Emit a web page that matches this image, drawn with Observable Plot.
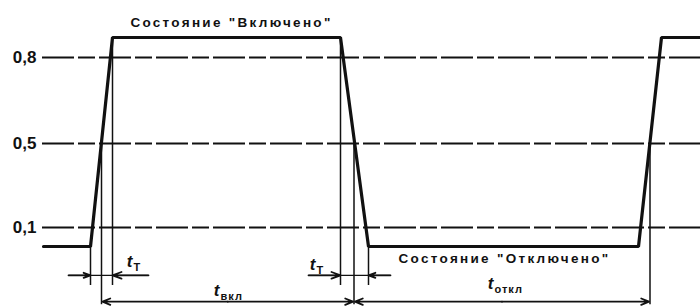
<!DOCTYPE html>
<html>
<head>
<meta charset="utf-8">
<script src="https://cdn.jsdelivr.net/npm/d3@7"></script>
<script src="https://cdn.jsdelivr.net/npm/@observablehq/plot@0.6"></script>
<style>
  body { margin: 0; background: #fff; }
  g[aria-description="state-label"] text { letter-spacing: 2.3px; }
  g[aria-description="sub-label"] text { letter-spacing: 1px; }
</style>
</head>
<body>
<div id="chart"></div>
<script>
// ---- data ----
// signal: time (arbitrary units) and normalized level (0 = off, 1 = on)
const signalT = [4.3, 9.0, 11.2, 34.0, 36.8, 63.8, 66.1, 70];
const signalV = [0, 0, 1, 1, 0, 0, 1, 1];

// threshold levels and their tick labels
const thresholds = [0.1, 0.5, 0.8];
const thresholdLabels = ["0,1", "0,5", "0,8"];

// transition edges (start / end of each measured transition)
const edgeT = [9.0, 11.2, 34.0, 36.8];
const edgeV = [0, 1, 1, 0];

// 0,5-level crossings used for the on / off durations
const midT = [10.1, 35.35, 64.95];

// transition-time dimension arrows: [start, end] and tail ends
const transStart = [9.0, 34.0];
const transEnd = [11.2, 36.8];
const tailLeft = [6.8, 30.8];
const tailRight = [14.8, 39.0];

// duration dimensions
const durFrom = [10.1, 35.35];
const durTo = [35.35, 64.95];

// symbol labels  t_T, t_T, t_вкл, t_откл
const symX = [12.9, 31.2, 21.6, 49.0];
const symY = [-0.25, -0.3, -0.73, -0.62];
const symMain = ["t", "t", "t", "t"];
const symSub = ["T", "T", "вкл", "откл"];

// state captions
const stateText = ["Состояние \"Включено\"", "Состояние \"Отключено\""];
const stateX = [23.1, 50.4];
const stateY = [1.125, -0.2];

// ---- annotation rows (in y units) ----
const rowExt = -0.65, rowArrow = -0.48, rowDim = -0.92, rowBottom = -0.97;

// the level axis of the drawing is not to scale: piecewise mapping of levels
const levelDomain = [-1, 0, 0.1, 0.5, 0.8, 1, 1.3];
const levelRange  = [306, 246, 227, 143, 57, 37, 1];
const levelWarp = d3.scaleLinear().domain(levelDomain).range(levelRange);

const FONT = "Liberation Sans, Arial, sans-serif";
const ink = "#111";

const signal = signalT.map((t, i) => ({t, v: signalV[i]}));
const idx = (arr) => arr.map((_, i) => i);

const chart = Plot.plot({
  width: 700,
  height: 306,
  marginLeft: 42,
  marginRight: 0,
  marginTop: 0,
  marginBottom: 0,
  x: {domain: [4.2, 70], axis: null},
  y: {transform: levelWarp, domain: [0, 306], range: [0, 306], axis: null},
  style: {background: "#fff", color: ink},
  marks: [
    // dashed threshold lines
    Plot.ruleY(thresholds, {y: d => d, stroke: ink, strokeWidth: 2, strokeDasharray: "32,4,17,4"}),
    // threshold labels
    Plot.text(thresholds, {
      y: d => d, text: (d, i) => thresholdLabels[i], frameAnchor: "left",
      textAnchor: "end", dx: -6, fontSize: 17, fontWeight: "bold", fontFamily: FONT, fill: ink
    }),
    // extension lines at transition edges
    Plot.ruleX(idx(edgeT), {x: i => edgeT[i], y1: i => edgeV[i], y2: () => rowExt, stroke: ink, strokeWidth: 1.5}),
    // extension lines at 0,5 crossings
    Plot.ruleX(midT, {x: d => d, y1: () => 0.5, y2: () => rowBottom, stroke: ink, strokeWidth: 1.5}),
    // signal
    Plot.line(signal, {x: "t", y: "v", stroke: ink, strokeWidth: 3.2, strokeLinejoin: "miter"}),
    // transition dimension lines
    Plot.link(idx(transStart), {x1: i => tailLeft[i], x2: i => tailRight[i], y1: () => rowArrow, y2: () => rowArrow, stroke: ink, strokeWidth: 1.3}),
    Plot.arrow(idx(transStart), {x1: i => tailLeft[i], x2: i => transStart[i], y1: () => rowArrow, y2: () => rowArrow, stroke: ink, strokeWidth: 1.8, headLength: 8, headAngle: 40}),
    Plot.arrow(idx(transEnd), {x1: i => tailRight[i], x2: i => transEnd[i], y1: () => rowArrow, y2: () => rowArrow, stroke: ink, strokeWidth: 1.8, headLength: 8, headAngle: 40}),
    // duration dimension lines (arrow heads at both ends)
    Plot.arrow(idx(durFrom), {x1: i => (durFrom[i] + durTo[i]) / 2, x2: i => durFrom[i], y1: () => rowDim, y2: () => rowDim, stroke: ink, strokeWidth: 1.8, headLength: 7, headAngle: 45, insetEnd: 1}),
    Plot.arrow(idx(durTo), {x1: i => (durFrom[i] + durTo[i]) / 2, x2: i => durTo[i], y1: () => rowDim, y2: () => rowDim, stroke: ink, strokeWidth: 1.8, headLength: 7, headAngle: 45, insetEnd: 1}),
    // symbol labels
    Plot.text(idx(symX), {
      x: i => symX[i], y: i => symY[i], text: i => symMain[i],
      fontSize: 17, fontStyle: "italic", fontWeight: "bold", fontFamily: FONT, fill: ink
    }),
    Plot.text(idx(symX), {
      x: i => symX[i], y: i => symY[i], text: i => symSub[i], textAnchor: "start",
      dx: 4, dy: 6, fontSize: 11, fontWeight: "bold", fontFamily: FONT, fill: ink, ariaDescription: "sub-label"
    }),
    // state captions
    Plot.text(idx(stateText), {
      x: i => stateX[i], y: i => stateY[i], text: i => stateText[i],
      fontSize: 13.5, fontWeight: "bold", fontFamily: FONT, fill: ink, ariaDescription: "state-label"
    })
  ]
});

document.getElementById("chart").appendChild(chart);
</script>
</body>
</html>
